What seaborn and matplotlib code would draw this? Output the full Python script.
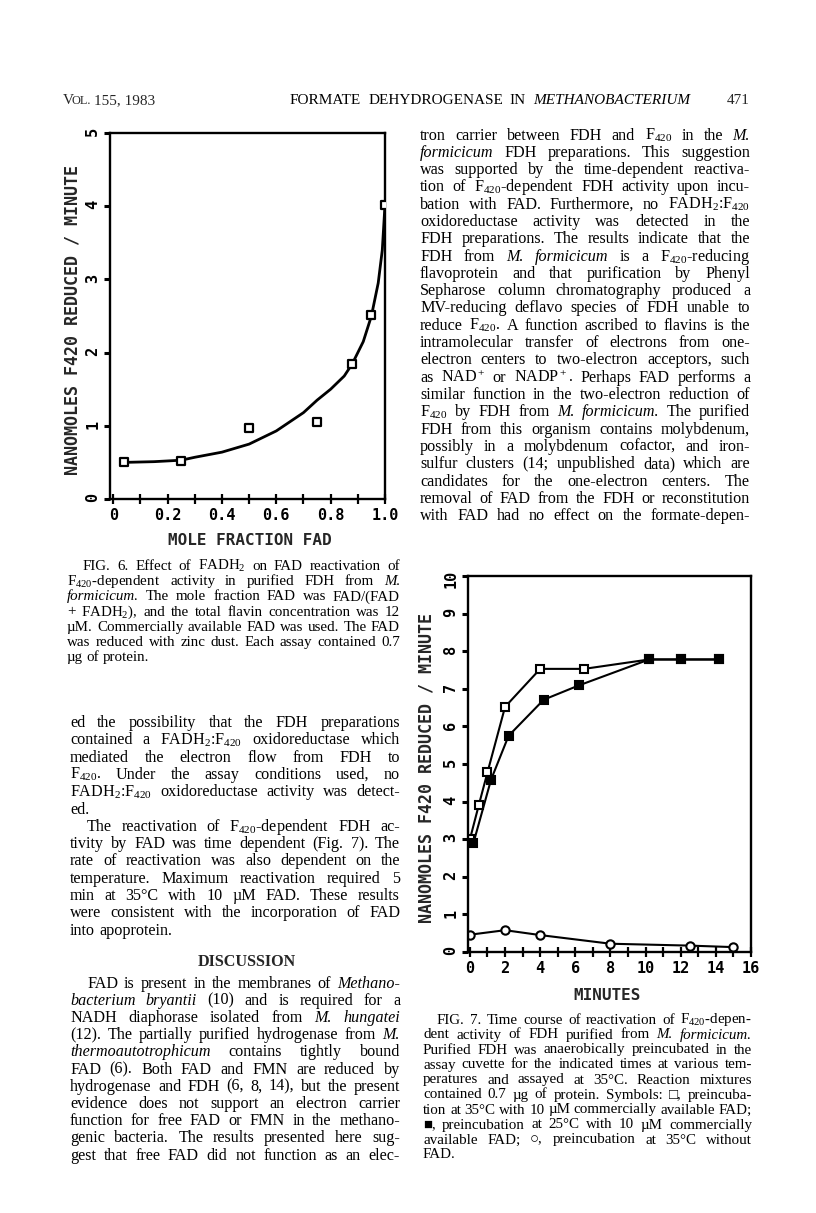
import matplotlib
matplotlib.use("Agg")
import matplotlib.pyplot as plt
import seaborn as sns
from matplotlib.ticker import MultipleLocator

sns.set_theme(style="ticks")
plt.rcParams.update({
    "font.family": ["DejaVu Sans Mono"],
    "font.weight": "bold",
    "axes.labelweight": "bold",
    "mathtext.fontset": "custom",
    "mathtext.rm": "Liberation Serif",
    "mathtext.it": "Liberation Serif:italic",
    "mathtext.default": "regular",
})

W, H = 816, 1213
SERIF = ["Liberation Serif", "DejaVu Sans"]

# ---- Fig. 6 data: rate vs mole fraction FAD ----
frac_fad = [0.04, 0.25, 0.5, 0.75, 0.88, 0.95, 1.0]
rate_fig6 = [0.50, 0.52, 0.97, 1.05, 1.85, 2.52, 4.02]
# fitted curve as drawn in the figure
curve_x = [0.04, 0.15, 0.25, 0.30, 0.40, 0.50, 0.60, 0.70, 0.75, 0.80, 0.85,
           0.88, 0.92, 0.95, 0.975, 0.99, 1.0]
curve_y = [0.50, 0.51, 0.53, 0.57, 0.64, 0.75, 0.93, 1.18, 1.35, 1.50, 1.68,
           1.85, 2.15, 2.50, 2.95, 3.40, 4.02]
fig6_xticks = [0, 0.2, 0.4, 0.6, 0.8, 1.0]
fig6_xlabels = ["0", "0.2", "0.4", "0.6", "0.8", "1.0"]

# ---- Fig. 7 data: time course ----
t_35_fad = [0, 0.5, 1.0, 2.0, 4.0, 6.5, 10.2, 12.0, 14.2]
r_35_fad = [3.0, 3.9, 4.78, 6.52, 7.53, 7.53, 7.78, 7.78, 7.78]
t_25_fad = [0.2, 1.2, 2.2, 4.2, 6.2, 10.2, 12.0, 14.2]
r_25_fad = [2.9, 4.58, 5.75, 6.71, 7.09, 7.78, 7.78, 7.78]
t_no_fad = [0, 2, 4, 8, 12.5, 15]
r_no_fad = [0.46, 0.58, 0.45, 0.22, 0.17, 0.13]

YLABEL = "NANOMOLES F420 REDUCED / MINUTE"

# ---- page text ----
right_body = [
    "tron carrier between FDH and F$_{420}$ in the *M.*",
    "*formicicum* FDH preparations. This suggestion",
    "was supported by the time-dependent reactiva-",
    "tion of F$_{420}$-dependent FDH activity upon incu-",
    "bation with FAD. Furthermore, no FADH$_2$:F$_{420}$",
    "oxidoreductase activity was detected in the",
    "FDH preparations. The results indicate that the",
    "FDH from *M.* *formicicum* is a F$_{420}$-reducing",
    "flavoprotein and that purification by Phenyl",
    "Sepharose column chromatography produced a",
    "MV-reducing deflavo species of FDH unable to",
    "reduce F$_{420}$. A function ascribed to flavins is the",
    "intramolecular transfer of electrons from one-",
    "electron centers to two-electron acceptors, such",
    "as NAD$^+$ or NADP$^+$. Perhaps FAD performs a",
    "similar function in the two-electron reduction of",
    "F$_{420}$ by FDH from *M.* *formicicum*. The purified",
    "FDH from this organism contains molybdenum,",
    "possibly in a molybdenum cofactor, and iron-",
    "sulfur clusters (14; unpublished data) which are",
    "candidates for the one-electron centers. The",
    "removal of FAD from the FDH or reconstitution",
    "with FAD had no effect on the formate-depen-",
]
fig6_caption = [
    ">FIG. 6. Effect of FADH$_2$ on FAD reactivation of",
    "F$_{420}$-dependent activity in purified FDH from *M.*",
    "*formicicum*. The mole fraction FAD was FAD/(FAD",
    "+ FADH$_2$), and the total flavin concentration was 12",
    "µM. Commercially available FAD was used. The FAD",
    "was reduced with zinc dust. Each assay contained 0.7",
    "µg of protein.|",
]
left_body = [
    "ed the possibility that the FDH preparations",
    "contained a FADH$_2$:F$_{420}$ oxidoreductase which",
    "mediated the electron flow from FDH to",
    "F$_{420}$. Under the assay conditions used, no",
    "FADH$_2$:F$_{420}$ oxidoreductase activity was detect-",
    "ed.|",
    ">The reactivation of F$_{420}$-dependent FDH ac-",
    "tivity by FAD was time dependent (Fig. 7). The",
    "rate of reactivation was also dependent on the",
    "temperature. Maximum reactivation required 5",
    "min at 35°C with 10 µM FAD. These results",
    "were consistent with the incorporation of FAD",
    "into apoprotein.|",
]
discussion = [
    ">FAD is present in the membranes of *Methano-*",
    "*bacterium* *bryantii* (10) and is required for a",
    "NADH diaphorase isolated from *M.* *hungatei*",
    "(12). The partially purified hydrogenase from *M.*",
    "*thermoautotrophicum* contains tightly bound",
    "FAD (6). Both FAD and FMN are reduced by",
    "hydrogenase and FDH (6, 8, 14), but the present",
    "evidence does not support an electron carrier",
    "function for free FAD or FMN in the methano-",
    "genic bacteria. The results presented here sug-",
    "gest that free FAD did not function as an elec-",
]
fig7_caption = [
    ">FIG. 7. Time course of reactivation of F$_{420}$-depen-",
    "dent activity of FDH purified from *M.* *formicicum*.",
    "Purified FDH was anaerobically preincubated in the",
    "assay cuvette for the indicated times at various tem-",
    "peratures and assayed at 35°C. Reaction mixtures",
    "contained 0.7 µg of protein. Symbols: □, preincuba-",
    "tion at 35°C with 10 µM commercially available FAD;",
    "■, preincubation at 25°C with 10 µM commercially",
    "available FAD; ○, preincubation at 35°C without",
    "FAD.|",
]

fig = plt.figure(figsize=(W / 100, H / 100), dpi=100)
fig.patch.set_facecolor("white")
renderer = fig.canvas.get_renderer()


def px_axes(l, t, r, b):
    return fig.add_axes([l / W, 1 - b / H, (r - l) / W, (b - t) / H])


def style_axes(ax):
    for sp in ax.spines.values():
        sp.set_visible(True)
        sp.set_color("black")
        sp.set_linewidth(1.7)
    ax.set_facecolor("white")
    ax.tick_params(axis="x", which="both", direction="inout", length=7, width=1.6,
                   pad=3, labelsize=11, colors="black", top=False)
    ax.tick_params(axis="y", which="both", direction="out", length=4, width=2.2,
                   pad=3, labelsize=11, labelrotation=90, colors="black", right=False)


# Fig. 6
ax6 = px_axes(110, 133, 385, 499)
sns.lineplot(x=curve_x, y=curve_y, ax=ax6, color="black", lw=2.0, sort=False)
sns.scatterplot(x=frac_fad, y=rate_fig6, ax=ax6, marker="s", s=38, color="white",
                edgecolor="black", linewidth=1.6, zorder=3)
ax6.set_xlim(-0.012, 1.0)
ax6.set_ylim(0, 5)
ax6.set_xticks(fig6_xticks, labels=fig6_xlabels)
ax6.xaxis.set_minor_locator(MultipleLocator(0.1))
ax6.set_yticks(range(0, 6))
style_axes(ax6)
ax6.set_xlabel("MOLE FRACTION FAD", fontsize=11.5)
ax6.set_ylabel(YLABEL, fontsize=12)
ax6.xaxis.set_label_coords(0.51, -0.093)
ax6.yaxis.set_label_coords(-0.105, 0.49)

# Fig. 7
ax7 = px_axes(468, 576, 751, 952)
line_kw = dict(color="black", lw=1.5, markersize=6, markeredgecolor="black",
               markeredgewidth=1.5)
sns.lineplot(x=t_35_fad, y=r_35_fad, ax=ax7, marker="s", markerfacecolor="white", **line_kw)
sns.lineplot(x=t_25_fad, y=r_25_fad, ax=ax7, marker="s", markerfacecolor="black", **line_kw)
sns.lineplot(x=t_no_fad, y=r_no_fad, ax=ax7, marker="o", markerfacecolor="white", **line_kw)
ax7.set_xlim(-0.11, 16)
ax7.set_ylim(0, 10)
ax7.set_xticks(range(0, 17, 2))
ax7.xaxis.set_minor_locator(MultipleLocator(1))
ax7.set_yticks(range(0, 11))
style_axes(ax7)
ax7.set_xlabel("MINUTES", fontsize=11.5)
ax7.set_ylabel(YLABEL, fontsize=12)
ax7.xaxis.set_label_coords(0.49, -0.096)
ax7.yaxis.set_label_coords(-0.115, 0.49)


def draw_line(line, x0, x1, y, size, indent=0):
    justify = not line.endswith("|")
    line = line.rstrip("|")
    if line.startswith(">"):
        line = line[1:]
        x0 += indent
    objs = []
    for w in line.split():
        italic = w.startswith("*")
        t = fig.text(0, 1 - y / H, w.replace("*", ""), fontsize=size, family=SERIF,
                     fontweight="normal", style="italic" if italic else "normal",
                     va="baseline", ha="left", color="black")
        objs.append(t)
    widths = [t.get_window_extent(renderer).width for t in objs]
    gap = size * 0.25 * 100 / 72
    if justify and len(objs) > 1:
        gap = max(2.0, (x1 - x0 - sum(widths)) / (len(objs) - 1))
    x = x0
    for t, w in zip(objs, widths):
        t.set_x(x / W)
        x += w + gap


def draw_block(lines, x0, x1, y0, step, size, indent):
    for i, line in enumerate(lines):
        draw_line(line, x0, x1, y0 + i * step, size, indent)


BODY, CAP = 11.6, 10.8
draw_block(right_body, 420, 750, 139.5, 17.3, BODY, 16)
draw_block(fig6_caption, 67, 400, 570, 15.2, CAP, 16)
draw_block(left_body, 70, 400, 727, 17.3, BODY, 17)
draw_block(discussion, 70, 400, 987.5, 17.2, BODY, 17)
draw_block(fig7_caption, 423, 752, 1023.5, 15.0, CAP, 14)

fig.text(247 / W, 1 - 966 / H, "DISCUSSION", fontsize=BODY, family=SERIF,
         fontweight="bold", ha="center", va="baseline")

# running head
fig.text(63 / W, 1 - 104 / H, "V", fontsize=11, family=SERIF, fontweight="normal",
         va="baseline")
fig.text(72 / W, 1 - 104 / H, "OL.", fontsize=8.8, family=SERIF, fontweight="normal",
         va="baseline")
fig.text(94 / W, 1 - 104 / H, "155, 1983", fontsize=11, family=SERIF,
         fontweight="normal", va="baseline")
draw_line("FORMATE DEHYDROGENASE IN *METHANOBACTERIUM*", 290, 690, 104, 11)
fig.text(727 / W, 1 - 104 / H, "471", fontsize=11, family=SERIF, fontweight="normal",
         va="baseline")

fig.savefig("out.png", dpi=100, facecolor="white")
